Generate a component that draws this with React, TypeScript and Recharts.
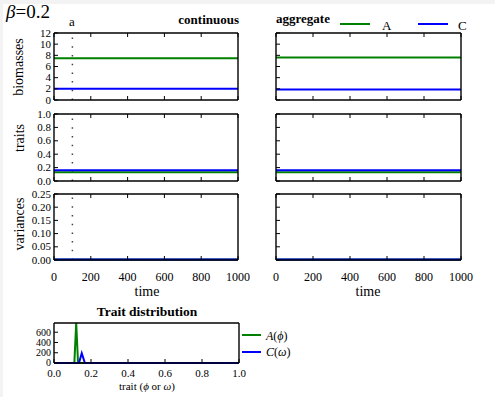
import { LineChart, Line, XAxis, YAxis, ReferenceLine } from 'recharts';

const W = 495;
const H = 397;

// time series (flat after the transient)
const times = [0, 1000];
const contBiomassA = [7.5, 7.5];
const contBiomassC = [2.0, 2.0];
const aggBiomassA = [7.6, 7.6];
const aggBiomassC = [1.9, 1.9];
const contTraitA = [0.13, 0.13];
const contTraitC = [0.16, 0.16];
const aggTraitA = [0.13, 0.13];
const aggTraitC = [0.16, 0.16];
const contVarA = [0.002, 0.002];
const contVarC = [0.002, 0.002];
const aggVarA = [0.002, 0.002];
const aggVarC = [0.002, 0.002];

const timeTicks = [0, 200, 400, 600, 800, 1000];
const biomassTicks = [0, 2, 4, 6, 8, 10, 12];
const traitTicks = [0, 0.2, 0.4, 0.6, 0.8, 1.0];
const varianceTicks = [0, 0.05, 0.1, 0.15, 0.2, 0.25];
const markerTime = 100;

// trait distribution
const distTraitA = [0, 0.11, 0.12, 0.13, 1.0];
const distA = [0, 0, 780, 0, 0];
const distTraitC = [0, 0.135, 0.15, 0.167, 1.0];
const distC = [0, 0, 190, 0, 0];
const distXTicks = [0, 0.2, 0.4, 0.6, 0.8, 1.0];
const distYTicks = [0, 200, 400, 600];

const GREEN = '#008000';
const BLUE = '#0000ff';
const FONT = "'Liberation Serif', 'Times New Roman', serif";

const rows = (a: number[], c: number[]) => times.map((t, i) => ({ t, A: a[i], C: c[i] }));
const pts = (xs: number[], ys: number[]) => xs.map((x, i) => ({ x, y: ys[i] }));

type Box = { x0: number; y0: number; x1: number; y1: number };

const makeTick = (side: string, show: boolean, fmt: (v: number) => string, fs: number, gap: number) =>
  (p: any) => {
    const { x, y, payload } = p;
    const v = payload.value;
    const L = 4;
    if (side === 'bottom')
      return (
        <g>
          <line x1={x} y1={y} x2={x} y2={y - L} stroke="#000" />
          {show && (
            <text x={x} y={y + gap} textAnchor="middle" fontSize={fs} fontFamily={FONT} fill="#000">
              {fmt(v)}
            </text>
          )}
        </g>
      );
    if (side === 'top') return <line x1={x} y1={y} x2={x} y2={y + L} stroke="#000" />;
    if (side === 'right') return <line x1={x} y1={y} x2={x - L} y2={y} stroke="#000" />;
    return (
      <g>
        <line x1={x} y1={y} x2={x + L} y2={y} stroke="#000" />
        {show && (
          <text x={x - 3} y={y + fs * 0.33} textAnchor="end" fontSize={fs} fontFamily={FONT} fill="#000">
            {fmt(v)}
          </text>
        )}
      </g>
    );
  };

interface PanelProps {
  box: Box;
  data?: any[];
  series: { key: string; color: string; data?: any[] }[];
  xKey: string;
  xDomain: [number, number];
  xTicks: number[];
  yDomain: [number, number];
  yTicks: number[];
  xLabels?: boolean;
  yLabels?: boolean;
  xFmt?: (v: number) => string;
  yFmt?: (v: number) => string;
  xFs?: number;
  yFs?: number;
  xGap?: number;
  marker?: boolean;
}

const axisLine = { stroke: '#000', strokeWidth: 1.4 };

const Panel = ({
  box, data, series, xKey, xDomain, xTicks, yDomain, yTicks,
  xLabels = false, yLabels = false, xFmt = String, yFmt = String,
  xFs = 12, yFs = 11, xGap = 21, marker = false,
}: PanelProps) => (
  <LineChart
    width={W}
    height={H}
    data={data}
    margin={{ left: box.x0, top: box.y0, right: W - box.x1, bottom: H - box.y1 }}
    style={{ position: 'absolute', left: 0, top: 0 }}
  >
    <XAxis xAxisId="b" mirror dataKey={xKey} type="number" domain={xDomain} ticks={xTicks} interval={0}
      tickSize={0} tickMargin={0} tickLine={false} axisLine={axisLine}
      tick={makeTick('bottom', xLabels, xFmt, xFs, xGap)} />
    <XAxis xAxisId="t" mirror orientation="top" dataKey={xKey} type="number" domain={xDomain} ticks={xTicks} interval={0}
      tickSize={0} tickMargin={0} tickLine={false} axisLine={axisLine}
      tick={makeTick('top', false, xFmt, xFs, 0)} />
    <YAxis yAxisId="l" mirror type="number" domain={yDomain} ticks={yTicks} interval={0}
      tickSize={0} tickMargin={0} tickLine={false} axisLine={axisLine}
      tick={makeTick('left', yLabels, yFmt, yFs, 0)} />
    <YAxis yAxisId="r" mirror orientation="right" type="number" domain={yDomain} ticks={yTicks} interval={0}
      tickSize={0} tickMargin={0} tickLine={false} axisLine={axisLine}
      tick={makeTick('right', false, yFmt, yFs, 0)} />
    {marker && (
      <ReferenceLine xAxisId="b" yAxisId="l" x={markerTime} stroke="#444" strokeWidth={1.5} strokeDasharray="1.5 7.2" />
    )}
    {series.map((s) => (
      <Line key={s.key} xAxisId="b" yAxisId="l" data={s.data} dataKey={s.data ? 'y' : s.key}
        stroke={s.color} strokeWidth={2} dot={false} isAnimationActive={false} />
    ))}
  </LineChart>
);

const L = { x0: 54, x1: 238 };
const R = { x0: 276, x1: 461 };
const rowTop = { y0: 33, y1: 100 };
const rowMid = { y0: 114, y1: 181 };
const rowBot = { y0: 194, y1: 260 };

const fmtTrait = (v: number) => v.toFixed(1);
const fmtVar = (v: number) => v.toFixed(2);
const txt = (style: React.CSSProperties, children: React.ReactNode) => (
  <div style={{ position: 'absolute', fontFamily: FONT, color: '#000', whiteSpace: 'nowrap', lineHeight: 1, ...style }}>
    {children}
  </div>
);
const vlabel = (cx: number, cy: number, s: string) => (
  <div style={{ position: 'absolute', left: cx - 60, top: cy - 8, width: 120, height: 16, textAlign: 'center',
    fontFamily: FONT, fontSize: 14, lineHeight: '16px', transform: 'rotate(-90deg)' }}>{s}</div>
);
const legLine = (x: number, y: number, w: number, color: string) => (
  <div style={{ position: 'absolute', left: x, top: y - 1.25, width: w, height: 2.5, background: color }} />
);

export default function App() {
  const ts = { xKey: 't', xDomain: [0, 1000] as [number, number], xTicks: timeTicks };
  const ab = [{ key: 'A', color: GREEN }, { key: 'C', color: BLUE }];
  return (
    <div style={{ position: 'absolute', left: 0, top: 0, width: W, height: H, background: '#fff', overflow: 'hidden' }}>
      <div style={{ position: 'absolute', left: 0, top: 0, width: W, height: 4, background: '#f3f3f3' }} />
      <div style={{ position: 'absolute', left: 0, top: 0, width: 3, height: H, background: '#f3f3f3' }} />
      <Panel box={{ ...L, ...rowTop }} data={rows(contBiomassA, contBiomassC)} series={ab} {...ts}
        yDomain={[0, 12]} yTicks={biomassTicks} yLabels marker />
      <Panel box={{ ...R, ...rowTop }} data={rows(aggBiomassA, aggBiomassC)} series={ab} {...ts}
        yDomain={[0, 12]} yTicks={biomassTicks} />
      <Panel box={{ ...L, ...rowMid }} data={rows(contTraitA, contTraitC)} series={ab} {...ts}
        yDomain={[0, 1]} yTicks={traitTicks} yLabels yFmt={fmtTrait} marker />
      <Panel box={{ ...R, ...rowMid }} data={rows(aggTraitA, aggTraitC)} series={ab} {...ts}
        yDomain={[0, 1]} yTicks={traitTicks} />
      <Panel box={{ ...L, ...rowBot }} data={rows(contVarA, contVarC)} series={ab} {...ts}
        yDomain={[0, 0.25]} yTicks={varianceTicks} yLabels yFmt={fmtVar} xLabels marker />
      <Panel box={{ ...R, ...rowBot }} data={rows(aggVarA, aggVarC)} series={ab} {...ts}
        yDomain={[0, 0.25]} yTicks={varianceTicks} xLabels />
      <Panel box={{ x0: 54, x1: 239, y0: 323, y1: 363 }} xKey="x" xDomain={[0, 1]} xTicks={distXTicks}
        yDomain={[0, 780]} yTicks={distYTicks} xLabels yLabels xFmt={fmtTrait} xFs={11} yFs={10} xGap={14}
        series={[
          { key: 'A', color: GREEN, data: pts(distTraitA, distA) },
          { key: 'C', color: BLUE, data: pts(distTraitC, distC) },
        ]} />

      {txt({ left: 6, top: 2, fontSize: 19 }, <><i>β</i>=0.2</>)}
      {txt({ left: 69, top: 15, fontSize: 13 }, 'a')}
      {txt({ right: W - 239, top: 13, fontSize: 13, fontWeight: 'bold' }, 'continuous')}
      {txt({ left: 276, top: 12, fontSize: 13, fontWeight: 'bold' }, 'aggregate')}
      {legLine(340, 24, 30, GREEN)}
      {txt({ left: 382, top: 19, fontSize: 13 }, 'A')}
      {legLine(418, 24, 30, BLUE)}
      {txt({ left: 458, top: 19, fontSize: 13 }, 'C')}

      {vlabel(19, 66.5, 'biomasses')}
      {vlabel(20, 138, 'traits')}
      {vlabel(20, 224, 'variances')}
      {txt({ left: 147, top: 285, fontSize: 14, transform: 'translateX(-50%)' }, 'time')}
      {txt({ left: 368, top: 285, fontSize: 14, transform: 'translateX(-50%)' }, 'time')}

      {txt({ left: 147, top: 305, fontSize: 13.5, fontWeight: 'bold', transform: 'translateX(-50%)' }, 'Trait distribution')}
      {txt({ left: 147, top: 381, fontSize: 11, transform: 'translateX(-50%)' }, <>trait (<i>ϕ</i> or <i>ω</i>)</>)}
      {legLine(242, 335, 19, GREEN)}
      {txt({ left: 266, top: 330, fontSize: 12 }, <><i>A</i>(<i>ϕ</i>)</>)}
      {legLine(242, 352, 19, BLUE)}
      {txt({ left: 266, top: 346, fontSize: 12 }, <><i>C</i>(<i>ω</i>)</>)}
    </div>
  );
}
